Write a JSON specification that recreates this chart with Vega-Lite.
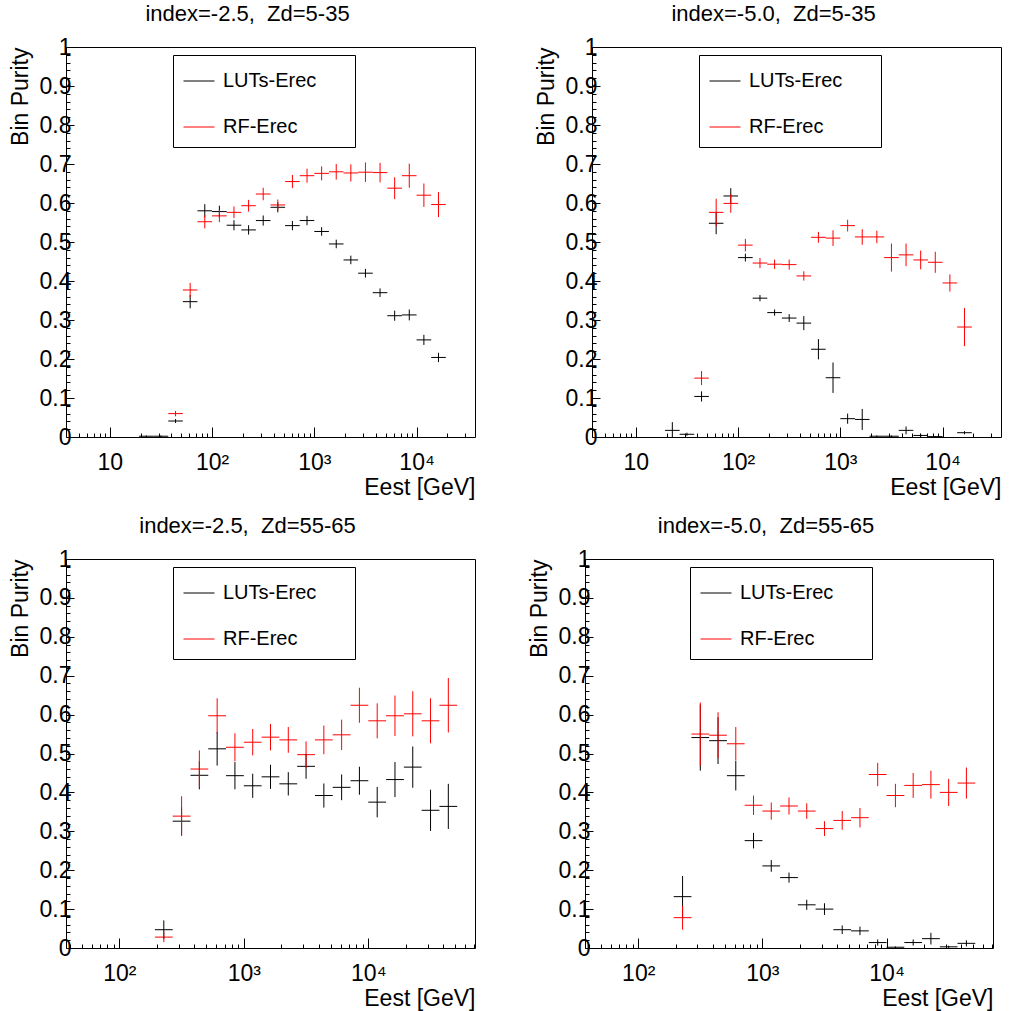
{
  "$schema": "https://vega.github.io/schema/vega-lite/v6.json",
  "background": "white",
  "padding": {"left": 8, "top": 2, "right": 0, "bottom": 0},
  "datasets": {
    "tl": [
      {"s":"LUTs-Erec","lo":19.307,"c":22.758,"hi":26.827,"v":0.002,"ylo":0,"yhi":0.004},
      {"s":"LUTs-Erec","lo":26.827,"c":31.623,"hi":37.276,"v":0.002,"ylo":0,"yhi":0.004},
      {"s":"LUTs-Erec","lo":37.276,"c":43.94,"hi":51.795,"v":0.041,"ylo":0.036,"yhi":0.046},
      {"s":"LUTs-Erec","lo":51.795,"c":61.054,"hi":71.969,"v":0.347,"ylo":0.33,"yhi":0.364},
      {"s":"LUTs-Erec","lo":71.969,"c":84.834,"hi":100,"v":0.58,"ylo":0.563,"yhi":0.597},
      {"s":"LUTs-Erec","lo":100,"c":117.88,"hi":138.95,"v":0.578,"ylo":0.563,"yhi":0.593},
      {"s":"LUTs-Erec","lo":138.95,"c":163.79,"hi":193.07,"v":0.543,"ylo":0.53,"yhi":0.556},
      {"s":"LUTs-Erec","lo":193.07,"c":227.59,"hi":268.27,"v":0.531,"ylo":0.519,"yhi":0.543},
      {"s":"LUTs-Erec","lo":268.27,"c":316.23,"hi":372.76,"v":0.555,"ylo":0.542,"yhi":0.568},
      {"s":"LUTs-Erec","lo":372.76,"c":439.4,"hi":517.95,"v":0.589,"ylo":0.576,"yhi":0.602},
      {"s":"LUTs-Erec","lo":517.95,"c":610.54,"hi":719.69,"v":0.542,"ylo":0.53,"yhi":0.554},
      {"s":"LUTs-Erec","lo":719.69,"c":848.34,"hi":1000,"v":0.555,"ylo":0.543,"yhi":0.567},
      {"s":"LUTs-Erec","lo":1000,"c":1178.8,"hi":1389.5,"v":0.527,"ylo":0.516,"yhi":0.538},
      {"s":"LUTs-Erec","lo":1389.5,"c":1637.9,"hi":1930.7,"v":0.495,"ylo":0.484,"yhi":0.506},
      {"s":"LUTs-Erec","lo":1930.7,"c":2275.8,"hi":2682.7,"v":0.454,"ylo":0.443,"yhi":0.465},
      {"s":"LUTs-Erec","lo":2682.7,"c":3162.3,"hi":3727.6,"v":0.42,"ylo":0.409,"yhi":0.431},
      {"s":"LUTs-Erec","lo":3727.6,"c":4394,"hi":5179.5,"v":0.37,"ylo":0.359,"yhi":0.381},
      {"s":"LUTs-Erec","lo":5179.5,"c":6105.4,"hi":7196.9,"v":0.311,"ylo":0.298,"yhi":0.324},
      {"s":"LUTs-Erec","lo":7196.9,"c":8483.4,"hi":10000,"v":0.313,"ylo":0.299,"yhi":0.327},
      {"s":"LUTs-Erec","lo":10000,"c":11788,"hi":13895,"v":0.249,"ylo":0.236,"yhi":0.262},
      {"s":"LUTs-Erec","lo":13895,"c":16379,"hi":19307,"v":0.204,"ylo":0.192,"yhi":0.216},
      {"s":"RF-Erec","lo":37.276,"c":43.94,"hi":51.795,"v":0.06,"ylo":0.053,"yhi":0.067},
      {"s":"RF-Erec","lo":51.795,"c":61.054,"hi":71.969,"v":0.377,"ylo":0.359,"yhi":0.395},
      {"s":"RF-Erec","lo":71.969,"c":84.834,"hi":100,"v":0.552,"ylo":0.535,"yhi":0.569},
      {"s":"RF-Erec","lo":100,"c":117.88,"hi":138.95,"v":0.567,"ylo":0.551,"yhi":0.583},
      {"s":"RF-Erec","lo":138.95,"c":163.79,"hi":193.07,"v":0.576,"ylo":0.561,"yhi":0.591},
      {"s":"RF-Erec","lo":193.07,"c":227.59,"hi":268.27,"v":0.593,"ylo":0.578,"yhi":0.608},
      {"s":"RF-Erec","lo":268.27,"c":316.23,"hi":372.76,"v":0.623,"ylo":0.607,"yhi":0.639},
      {"s":"RF-Erec","lo":372.76,"c":439.4,"hi":517.95,"v":0.595,"ylo":0.581,"yhi":0.609},
      {"s":"RF-Erec","lo":517.95,"c":610.54,"hi":719.69,"v":0.655,"ylo":0.638,"yhi":0.672},
      {"s":"RF-Erec","lo":719.69,"c":848.34,"hi":1000,"v":0.67,"ylo":0.652,"yhi":0.688},
      {"s":"RF-Erec","lo":1000,"c":1178.8,"hi":1389.5,"v":0.676,"ylo":0.658,"yhi":0.694},
      {"s":"RF-Erec","lo":1389.5,"c":1637.9,"hi":1930.7,"v":0.68,"ylo":0.66,"yhi":0.7},
      {"s":"RF-Erec","lo":1930.7,"c":2275.8,"hi":2682.7,"v":0.677,"ylo":0.655,"yhi":0.699},
      {"s":"RF-Erec","lo":2682.7,"c":3162.3,"hi":3727.6,"v":0.679,"ylo":0.654,"yhi":0.704},
      {"s":"RF-Erec","lo":3727.6,"c":4394,"hi":5179.5,"v":0.678,"ylo":0.653,"yhi":0.703},
      {"s":"RF-Erec","lo":5179.5,"c":6105.4,"hi":7196.9,"v":0.638,"ylo":0.61,"yhi":0.666},
      {"s":"RF-Erec","lo":7196.9,"c":8483.4,"hi":10000,"v":0.67,"ylo":0.639,"yhi":0.701},
      {"s":"RF-Erec","lo":10000,"c":11788,"hi":13895,"v":0.62,"ylo":0.59,"yhi":0.65},
      {"s":"RF-Erec","lo":13895,"c":16379,"hi":19307,"v":0.596,"ylo":0.564,"yhi":0.628}
    ],
    "tr": [
      {"s":"LUTs-Erec","lo":19.307,"c":22.758,"hi":26.827,"v":0.017,"ylo":0,"yhi":0.038},
      {"s":"LUTs-Erec","lo":26.827,"c":31.623,"hi":37.276,"v":0.007,"ylo":0.003,"yhi":0.011},
      {"s":"LUTs-Erec","lo":37.276,"c":43.94,"hi":51.795,"v":0.104,"ylo":0.091,"yhi":0.117},
      {"s":"LUTs-Erec","lo":51.795,"c":61.054,"hi":71.969,"v":0.548,"ylo":0.52,"yhi":0.576},
      {"s":"LUTs-Erec","lo":71.969,"c":84.834,"hi":100,"v":0.618,"ylo":0.598,"yhi":0.638},
      {"s":"LUTs-Erec","lo":100,"c":117.88,"hi":138.95,"v":0.46,"ylo":0.45,"yhi":0.47},
      {"s":"LUTs-Erec","lo":138.95,"c":163.79,"hi":193.07,"v":0.356,"ylo":0.348,"yhi":0.364},
      {"s":"LUTs-Erec","lo":193.07,"c":227.59,"hi":268.27,"v":0.319,"ylo":0.311,"yhi":0.327},
      {"s":"LUTs-Erec","lo":268.27,"c":316.23,"hi":372.76,"v":0.305,"ylo":0.295,"yhi":0.315},
      {"s":"LUTs-Erec","lo":372.76,"c":439.4,"hi":517.95,"v":0.292,"ylo":0.274,"yhi":0.31},
      {"s":"LUTs-Erec","lo":517.95,"c":610.54,"hi":719.69,"v":0.225,"ylo":0.199,"yhi":0.251},
      {"s":"LUTs-Erec","lo":719.69,"c":848.34,"hi":1000,"v":0.152,"ylo":0.113,"yhi":0.191},
      {"s":"LUTs-Erec","lo":1000,"c":1178.8,"hi":1389.5,"v":0.047,"ylo":0.034,"yhi":0.06},
      {"s":"LUTs-Erec","lo":1389.5,"c":1637.9,"hi":1930.7,"v":0.045,"ylo":0.018,"yhi":0.072},
      {"s":"LUTs-Erec","lo":1930.7,"c":2275.8,"hi":2682.7,"v":0.002,"ylo":0,"yhi":0.004},
      {"s":"LUTs-Erec","lo":2682.7,"c":3162.3,"hi":3727.6,"v":0.002,"ylo":0,"yhi":0.004},
      {"s":"LUTs-Erec","lo":3727.6,"c":4394,"hi":5179.5,"v":0.017,"ylo":0.007,"yhi":0.027},
      {"s":"LUTs-Erec","lo":5179.5,"c":6105.4,"hi":7196.9,"v":0.004,"ylo":0,"yhi":0.008},
      {"s":"LUTs-Erec","lo":7196.9,"c":8483.4,"hi":10000,"v":0.001,"ylo":0,"yhi":0.002},
      {"s":"LUTs-Erec","lo":13895,"c":16379,"hi":19307,"v":0.011,"ylo":0.007,"yhi":0.015},
      {"s":"RF-Erec","lo":37.276,"c":43.94,"hi":51.795,"v":0.151,"ylo":0.133,"yhi":0.169},
      {"s":"RF-Erec","lo":51.795,"c":61.054,"hi":71.969,"v":0.576,"ylo":0.541,"yhi":0.611},
      {"s":"RF-Erec","lo":71.969,"c":84.834,"hi":100,"v":0.599,"ylo":0.575,"yhi":0.623},
      {"s":"RF-Erec","lo":100,"c":117.88,"hi":138.95,"v":0.492,"ylo":0.476,"yhi":0.508},
      {"s":"RF-Erec","lo":138.95,"c":163.79,"hi":193.07,"v":0.446,"ylo":0.433,"yhi":0.459},
      {"s":"RF-Erec","lo":193.07,"c":227.59,"hi":268.27,"v":0.443,"ylo":0.431,"yhi":0.455},
      {"s":"RF-Erec","lo":268.27,"c":316.23,"hi":372.76,"v":0.442,"ylo":0.429,"yhi":0.455},
      {"s":"RF-Erec","lo":372.76,"c":439.4,"hi":517.95,"v":0.413,"ylo":0.401,"yhi":0.425},
      {"s":"RF-Erec","lo":517.95,"c":610.54,"hi":719.69,"v":0.512,"ylo":0.498,"yhi":0.526},
      {"s":"RF-Erec","lo":719.69,"c":848.34,"hi":1000,"v":0.51,"ylo":0.49,"yhi":0.53},
      {"s":"RF-Erec","lo":1000,"c":1178.8,"hi":1389.5,"v":0.542,"ylo":0.527,"yhi":0.557},
      {"s":"RF-Erec","lo":1389.5,"c":1637.9,"hi":1930.7,"v":0.513,"ylo":0.493,"yhi":0.533},
      {"s":"RF-Erec","lo":1930.7,"c":2275.8,"hi":2682.7,"v":0.513,"ylo":0.497,"yhi":0.529},
      {"s":"RF-Erec","lo":2682.7,"c":3162.3,"hi":3727.6,"v":0.46,"ylo":0.424,"yhi":0.496},
      {"s":"RF-Erec","lo":3727.6,"c":4394,"hi":5179.5,"v":0.467,"ylo":0.438,"yhi":0.496},
      {"s":"RF-Erec","lo":5179.5,"c":6105.4,"hi":7196.9,"v":0.454,"ylo":0.43,"yhi":0.478},
      {"s":"RF-Erec","lo":7196.9,"c":8483.4,"hi":10000,"v":0.448,"ylo":0.421,"yhi":0.475},
      {"s":"RF-Erec","lo":10000,"c":11788,"hi":13895,"v":0.395,"ylo":0.373,"yhi":0.417},
      {"s":"RF-Erec","lo":13895,"c":16379,"hi":19307,"v":0.282,"ylo":0.233,"yhi":0.331}
    ],
    "bl": [
      {"s":"LUTs-Erec","lo":193.07,"c":227.59,"hi":268.27,"v":0.047,"ylo":0.023,"yhi":0.071},
      {"s":"LUTs-Erec","lo":268.27,"c":316.23,"hi":372.76,"v":0.326,"ylo":0.29,"yhi":0.362},
      {"s":"LUTs-Erec","lo":372.76,"c":439.4,"hi":517.95,"v":0.444,"ylo":0.408,"yhi":0.48},
      {"s":"LUTs-Erec","lo":517.95,"c":610.54,"hi":719.69,"v":0.512,"ylo":0.469,"yhi":0.555},
      {"s":"LUTs-Erec","lo":719.69,"c":848.34,"hi":1000,"v":0.443,"ylo":0.408,"yhi":0.478},
      {"s":"LUTs-Erec","lo":1000,"c":1178.8,"hi":1389.5,"v":0.417,"ylo":0.386,"yhi":0.448},
      {"s":"LUTs-Erec","lo":1389.5,"c":1637.9,"hi":1930.7,"v":0.44,"ylo":0.409,"yhi":0.471},
      {"s":"LUTs-Erec","lo":1930.7,"c":2275.8,"hi":2682.7,"v":0.422,"ylo":0.392,"yhi":0.452},
      {"s":"LUTs-Erec","lo":2682.7,"c":3162.3,"hi":3727.6,"v":0.467,"ylo":0.435,"yhi":0.499},
      {"s":"LUTs-Erec","lo":3727.6,"c":4394,"hi":5179.5,"v":0.392,"ylo":0.361,"yhi":0.423},
      {"s":"LUTs-Erec","lo":5179.5,"c":6105.4,"hi":7196.9,"v":0.413,"ylo":0.38,"yhi":0.446},
      {"s":"LUTs-Erec","lo":7196.9,"c":8483.4,"hi":10000,"v":0.43,"ylo":0.394,"yhi":0.466},
      {"s":"LUTs-Erec","lo":10000,"c":11788,"hi":13895,"v":0.375,"ylo":0.336,"yhi":0.414},
      {"s":"LUTs-Erec","lo":13895,"c":16379,"hi":19307,"v":0.433,"ylo":0.388,"yhi":0.478},
      {"s":"LUTs-Erec","lo":19307,"c":22758,"hi":26827,"v":0.465,"ylo":0.412,"yhi":0.518},
      {"s":"LUTs-Erec","lo":26827,"c":31623,"hi":37276,"v":0.354,"ylo":0.301,"yhi":0.407},
      {"s":"LUTs-Erec","lo":37276,"c":43940,"hi":51795,"v":0.364,"ylo":0.306,"yhi":0.422},
      {"s":"RF-Erec","lo":193.07,"c":227.59,"hi":268.27,"v":0.028,"ylo":0.015,"yhi":0.041},
      {"s":"RF-Erec","lo":268.27,"c":316.23,"hi":372.76,"v":0.339,"ylo":0.288,"yhi":0.39},
      {"s":"RF-Erec","lo":372.76,"c":439.4,"hi":517.95,"v":0.46,"ylo":0.412,"yhi":0.508},
      {"s":"RF-Erec","lo":517.95,"c":610.54,"hi":719.69,"v":0.597,"ylo":0.552,"yhi":0.642},
      {"s":"RF-Erec","lo":719.69,"c":848.34,"hi":1000,"v":0.516,"ylo":0.48,"yhi":0.552},
      {"s":"RF-Erec","lo":1000,"c":1178.8,"hi":1389.5,"v":0.529,"ylo":0.495,"yhi":0.563},
      {"s":"RF-Erec","lo":1389.5,"c":1637.9,"hi":1930.7,"v":0.542,"ylo":0.508,"yhi":0.576},
      {"s":"RF-Erec","lo":1930.7,"c":2275.8,"hi":2682.7,"v":0.535,"ylo":0.502,"yhi":0.568},
      {"s":"RF-Erec","lo":2682.7,"c":3162.3,"hi":3727.6,"v":0.497,"ylo":0.463,"yhi":0.531},
      {"s":"RF-Erec","lo":3727.6,"c":4394,"hi":5179.5,"v":0.535,"ylo":0.498,"yhi":0.572},
      {"s":"RF-Erec","lo":5179.5,"c":6105.4,"hi":7196.9,"v":0.548,"ylo":0.509,"yhi":0.587},
      {"s":"RF-Erec","lo":7196.9,"c":8483.4,"hi":10000,"v":0.624,"ylo":0.579,"yhi":0.669},
      {"s":"RF-Erec","lo":10000,"c":11788,"hi":13895,"v":0.584,"ylo":0.539,"yhi":0.629},
      {"s":"RF-Erec","lo":13895,"c":16379,"hi":19307,"v":0.597,"ylo":0.545,"yhi":0.649},
      {"s":"RF-Erec","lo":19307,"c":22758,"hi":26827,"v":0.602,"ylo":0.544,"yhi":0.66},
      {"s":"RF-Erec","lo":26827,"c":31623,"hi":37276,"v":0.584,"ylo":0.526,"yhi":0.642},
      {"s":"RF-Erec","lo":37276,"c":43940,"hi":51795,"v":0.624,"ylo":0.554,"yhi":0.694}
    ],
    "br": [
      {"s":"LUTs-Erec","lo":193.07,"c":227.59,"hi":268.27,"v":0.132,"ylo":0.079,"yhi":0.185},
      {"s":"LUTs-Erec","lo":268.27,"c":316.23,"hi":372.76,"v":0.541,"ylo":0.456,"yhi":0.626},
      {"s":"LUTs-Erec","lo":372.76,"c":439.4,"hi":517.95,"v":0.533,"ylo":0.473,"yhi":0.593},
      {"s":"LUTs-Erec","lo":517.95,"c":610.54,"hi":719.69,"v":0.443,"ylo":0.405,"yhi":0.481},
      {"s":"LUTs-Erec","lo":719.69,"c":848.34,"hi":1000,"v":0.276,"ylo":0.256,"yhi":0.296},
      {"s":"LUTs-Erec","lo":1000,"c":1178.8,"hi":1389.5,"v":0.211,"ylo":0.196,"yhi":0.226},
      {"s":"LUTs-Erec","lo":1389.5,"c":1637.9,"hi":1930.7,"v":0.181,"ylo":0.168,"yhi":0.194},
      {"s":"LUTs-Erec","lo":1930.7,"c":2275.8,"hi":2682.7,"v":0.111,"ylo":0.098,"yhi":0.124},
      {"s":"LUTs-Erec","lo":2682.7,"c":3162.3,"hi":3727.6,"v":0.1,"ylo":0.085,"yhi":0.115},
      {"s":"LUTs-Erec","lo":3727.6,"c":4394,"hi":5179.5,"v":0.047,"ylo":0.036,"yhi":0.058},
      {"s":"LUTs-Erec","lo":5179.5,"c":6105.4,"hi":7196.9,"v":0.044,"ylo":0.033,"yhi":0.055},
      {"s":"LUTs-Erec","lo":7196.9,"c":8483.4,"hi":10000,"v":0.014,"ylo":0.006,"yhi":0.022},
      {"s":"LUTs-Erec","lo":10000,"c":11788,"hi":13895,"v":0.002,"ylo":0,"yhi":0.004},
      {"s":"LUTs-Erec","lo":13895,"c":16379,"hi":19307,"v":0.014,"ylo":0.006,"yhi":0.022},
      {"s":"LUTs-Erec","lo":19307,"c":22758,"hi":26827,"v":0.024,"ylo":0.009,"yhi":0.039},
      {"s":"LUTs-Erec","lo":26827,"c":31623,"hi":37276,"v":0.003,"ylo":0,"yhi":0.006},
      {"s":"LUTs-Erec","lo":37276,"c":43940,"hi":51795,"v":0.012,"ylo":0.004,"yhi":0.02},
      {"s":"RF-Erec","lo":193.07,"c":227.59,"hi":268.27,"v":0.078,"ylo":0.047,"yhi":0.109},
      {"s":"RF-Erec","lo":268.27,"c":316.23,"hi":372.76,"v":0.55,"ylo":0.469,"yhi":0.631},
      {"s":"RF-Erec","lo":372.76,"c":439.4,"hi":517.95,"v":0.547,"ylo":0.488,"yhi":0.606},
      {"s":"RF-Erec","lo":517.95,"c":610.54,"hi":719.69,"v":0.525,"ylo":0.482,"yhi":0.568},
      {"s":"RF-Erec","lo":719.69,"c":848.34,"hi":1000,"v":0.367,"ylo":0.342,"yhi":0.392},
      {"s":"RF-Erec","lo":1000,"c":1178.8,"hi":1389.5,"v":0.352,"ylo":0.33,"yhi":0.374},
      {"s":"RF-Erec","lo":1389.5,"c":1637.9,"hi":1930.7,"v":0.365,"ylo":0.343,"yhi":0.387},
      {"s":"RF-Erec","lo":1930.7,"c":2275.8,"hi":2682.7,"v":0.352,"ylo":0.332,"yhi":0.372},
      {"s":"RF-Erec","lo":2682.7,"c":3162.3,"hi":3727.6,"v":0.307,"ylo":0.288,"yhi":0.326},
      {"s":"RF-Erec","lo":3727.6,"c":4394,"hi":5179.5,"v":0.328,"ylo":0.304,"yhi":0.352},
      {"s":"RF-Erec","lo":5179.5,"c":6105.4,"hi":7196.9,"v":0.335,"ylo":0.31,"yhi":0.36},
      {"s":"RF-Erec","lo":7196.9,"c":8483.4,"hi":10000,"v":0.446,"ylo":0.416,"yhi":0.476},
      {"s":"RF-Erec","lo":10000,"c":11788,"hi":13895,"v":0.392,"ylo":0.362,"yhi":0.422},
      {"s":"RF-Erec","lo":13895,"c":16379,"hi":19307,"v":0.418,"ylo":0.386,"yhi":0.45},
      {"s":"RF-Erec","lo":19307,"c":22758,"hi":26827,"v":0.42,"ylo":0.384,"yhi":0.456},
      {"s":"RF-Erec","lo":26827,"c":31623,"hi":37276,"v":0.4,"ylo":0.365,"yhi":0.435},
      {"s":"RF-Erec","lo":37276,"c":43940,"hi":51795,"v":0.424,"ylo":0.384,"yhi":0.464}
    ]
  },
  "vconcat": [
    {
      "hconcat": [
        {
          "width": 409, "height": 390,
          "title": {"text": "index=-2.5,\u00a0 Zd=5-35", "dx": -23, "offset": -7, "baseline": "alphabetic"},
          "data": {"name": "tl"},
          "resolve": {"axis": {"x": "independent", "y": "independent"}},
          "layer": [
            {"mark": {"type": "rule", "strokeWidth": 1},
             "encoding": {
               "x": {"field": "lo", "type": "quantitative",
                     "scale": {"type": "log", "domain": [3.7276, 37276], "nice": false},
                     "axis": {"orient": "bottom", "title": "Eest [GeV]", "values": [10,100,1000,10000],
                              "labelExpr": "datum.value === 10 ? '10' : datum.value === 100 ? '10²' : datum.value === 1000 ? '10³' : '10⁴'",
                              "tickSize": -10, "labelPadding": 24}},
               "x2": {"field": "hi"},
               "y": {"field": "v", "type": "quantitative",
                     "scale": {"domain": [0, 1], "nice": false, "zero": false},
                     "axis": {"orient": "left", "title": "Bin Purity", "values": [0,0.1,0.2,0.3,0.4,0.5,0.6,0.7,0.8,0.9,1], "format": "~g",
                              "tickSize": -8, "labelPadding": 3}},
               "color": {"field": "s", "type": "nominal", "scale": {"domain": ["LUTs-Erec", "RF-Erec"], "range": ["#000000", "#ff0000"]},
                         "legend": {"orient": "none", "legendX": 107, "legendY": 8, "title": null, "labelExpr": "datum.label + '\u00a0\u00a0\u00a0\u00a0\u00a0\u200b'"}}
             }},
            {"mark": {"type": "rule", "strokeWidth": 1},
             "encoding": {
               "x": {"field": "c", "type": "quantitative",
                     "axis": {"orient": "bottom", "title": null, "labels": false, "tickSize": -4,
                              "values": [4,5,6,7,8,9,20,30,40,50,60,70,80,90,200,300,400,500,600,700,800,900,2000,3000,4000,5000,6000,7000,8000,9000,20000,30000]}},
               "y": {"field": "ylo", "type": "quantitative",
                     "axis": {"orient": "left", "title": null, "labels": false, "tickSize": -4,
                              "values": [0.02,0.04,0.06,0.08,0.12,0.14,0.16,0.18,0.22,0.24,0.26,0.28,0.32,0.34,0.36,0.38,0.42,0.44,0.46,0.48,0.52,0.54,0.56,0.58,0.62,0.64,0.66,0.68,0.72,0.74,0.76,0.78,0.82,0.84,0.86,0.88,0.92,0.94,0.96,0.98]}},
               "y2": {"field": "yhi"},
               "color": {"field": "s", "type": "nominal"}
             }}
          ]
        },
        {
          "width": 409, "height": 390,
          "title": {"text": "index=-5.0,\u00a0 Zd=5-35", "dx": -23, "offset": -7, "baseline": "alphabetic"},
          "data": {"name": "tr"},
          "resolve": {"axis": {"x": "independent", "y": "independent"}},
          "layer": [
            {"mark": {"type": "rule", "strokeWidth": 1},
             "encoding": {
               "x": {"field": "lo", "type": "quantitative",
                     "scale": {"type": "log", "domain": [3.7276, 37276], "nice": false},
                     "axis": {"orient": "bottom", "title": "Eest [GeV]", "values": [10,100,1000,10000],
                              "labelExpr": "datum.value === 10 ? '10' : datum.value === 100 ? '10²' : datum.value === 1000 ? '10³' : '10⁴'",
                              "tickSize": -10, "labelPadding": 24}},
               "x2": {"field": "hi"},
               "y": {"field": "v", "type": "quantitative",
                     "scale": {"domain": [0, 1], "nice": false, "zero": false},
                     "axis": {"orient": "left", "title": "Bin Purity", "values": [0,0.1,0.2,0.3,0.4,0.5,0.6,0.7,0.8,0.9,1], "format": "~g",
                              "tickSize": -8, "labelPadding": 3}},
               "color": {"field": "s", "type": "nominal", "scale": {"domain": ["LUTs-Erec", "RF-Erec"], "range": ["#000000", "#ff0000"]},
                         "legend": {"orient": "none", "legendX": 107, "legendY": 8, "title": null, "labelExpr": "datum.label + '\u00a0\u00a0\u00a0\u00a0\u00a0\u200b'"}}
             }},
            {"mark": {"type": "rule", "strokeWidth": 1},
             "encoding": {
               "x": {"field": "c", "type": "quantitative",
                     "axis": {"orient": "bottom", "title": null, "labels": false, "tickSize": -4,
                              "values": [4,5,6,7,8,9,20,30,40,50,60,70,80,90,200,300,400,500,600,700,800,900,2000,3000,4000,5000,6000,7000,8000,9000,20000,30000]}},
               "y": {"field": "ylo", "type": "quantitative",
                     "axis": {"orient": "left", "title": null, "labels": false, "tickSize": -4,
                              "values": [0.02,0.04,0.06,0.08,0.12,0.14,0.16,0.18,0.22,0.24,0.26,0.28,0.32,0.34,0.36,0.38,0.42,0.44,0.46,0.48,0.52,0.54,0.56,0.58,0.62,0.64,0.66,0.68,0.72,0.74,0.76,0.78,0.82,0.84,0.86,0.88,0.92,0.94,0.96,0.98]}},
               "y2": {"field": "yhi"},
               "color": {"field": "s", "type": "nominal"}
             }}
          ]
        }
      ],
      "spacing": 117,
      "bounds": "flush",
      "resolve": {"scale": {"x": "independent", "y": "independent"}, "legend": {"color": "independent"}}
    },
    {
      "hconcat": [
        {
          "width": 409, "height": 389,
          "title": {"text": "index=-2.5,\u00a0 Zd=55-65", "dx": -23, "offset": -7, "baseline": "alphabetic"},
          "data": {"name": "bl"},
          "resolve": {"axis": {"x": "independent", "y": "independent"}},
          "layer": [
            {"mark": {"type": "rule", "strokeWidth": 1},
             "encoding": {
               "x": {"field": "lo", "type": "quantitative",
                     "scale": {"type": "log", "domain": [37.276, 71969], "nice": false},
                     "axis": {"orient": "bottom", "title": "Eest [GeV]", "values": [100,1000,10000],
                              "labelExpr": "datum.value === 10 ? '10' : datum.value === 100 ? '10²' : datum.value === 1000 ? '10³' : '10⁴'",
                              "tickSize": -10, "labelPadding": 24}},
               "x2": {"field": "hi"},
               "y": {"field": "v", "type": "quantitative",
                     "scale": {"domain": [0, 1], "nice": false, "zero": false},
                     "axis": {"orient": "left", "title": "Bin Purity", "values": [0,0.1,0.2,0.3,0.4,0.5,0.6,0.7,0.8,0.9,1], "format": "~g",
                              "tickSize": -8, "labelPadding": 3}},
               "color": {"field": "s", "type": "nominal", "scale": {"domain": ["LUTs-Erec", "RF-Erec"], "range": ["#000000", "#ff0000"]},
                         "legend": {"orient": "none", "legendX": 107, "legendY": 8, "title": null, "labelExpr": "datum.label + '\u00a0\u00a0\u00a0\u00a0\u00a0\u200b'"}}
             }},
            {"mark": {"type": "rule", "strokeWidth": 1},
             "encoding": {
               "x": {"field": "c", "type": "quantitative",
                     "axis": {"orient": "bottom", "title": null, "labels": false, "tickSize": -4,
                              "values": [40,50,60,70,80,90,200,300,400,500,600,700,800,900,2000,3000,4000,5000,6000,7000,8000,9000,20000,30000,40000,50000,60000,70000]}},
               "y": {"field": "ylo", "type": "quantitative",
                     "axis": {"orient": "left", "title": null, "labels": false, "tickSize": -4,
                              "values": [0.02,0.04,0.06,0.08,0.12,0.14,0.16,0.18,0.22,0.24,0.26,0.28,0.32,0.34,0.36,0.38,0.42,0.44,0.46,0.48,0.52,0.54,0.56,0.58,0.62,0.64,0.66,0.68,0.72,0.74,0.76,0.78,0.82,0.84,0.86,0.88,0.92,0.94,0.96,0.98]}},
               "y2": {"field": "yhi"},
               "color": {"field": "s", "type": "nominal"}
             }}
          ]
        },
        {
          "width": 408, "height": 389,
          "title": {"text": "index=-5.0,\u00a0 Zd=55-65", "dx": -23, "offset": -7, "baseline": "alphabetic"},
          "data": {"name": "br"},
          "resolve": {"axis": {"x": "independent", "y": "independent"}},
          "layer": [
            {"mark": {"type": "rule", "strokeWidth": 1},
             "encoding": {
               "x": {"field": "lo", "type": "quantitative",
                     "scale": {"type": "log", "domain": [37.276, 71969], "nice": false},
                     "axis": {"orient": "bottom", "title": "Eest [GeV]", "values": [100,1000,10000], "titleX": 408,
                              "labelExpr": "datum.value === 10 ? '10' : datum.value === 100 ? '10²' : datum.value === 1000 ? '10³' : '10⁴'",
                              "tickSize": -10, "labelPadding": 24}},
               "x2": {"field": "hi"},
               "y": {"field": "v", "type": "quantitative",
                     "scale": {"domain": [0, 1], "nice": false, "zero": false},
                     "axis": {"orient": "left", "title": "Bin Purity", "values": [0,0.1,0.2,0.3,0.4,0.5,0.6,0.7,0.8,0.9,1], "format": "~g",
                              "tickSize": -8, "labelPadding": 3}},
               "color": {"field": "s", "type": "nominal", "scale": {"domain": ["LUTs-Erec", "RF-Erec"], "range": ["#000000", "#ff0000"]},
                         "legend": {"orient": "none", "legendX": 105, "legendY": 8, "title": null, "labelExpr": "datum.label + '\u00a0\u00a0\u00a0\u00a0\u00a0\u200b'"}}
             }},
            {"mark": {"type": "rule", "strokeWidth": 1},
             "encoding": {
               "x": {"field": "c", "type": "quantitative",
                     "axis": {"orient": "bottom", "title": null, "labels": false, "tickSize": -4,
                              "values": [40,50,60,70,80,90,200,300,400,500,600,700,800,900,2000,3000,4000,5000,6000,7000,8000,9000,20000,30000,40000,50000,60000,70000]}},
               "y": {"field": "ylo", "type": "quantitative",
                     "axis": {"orient": "left", "title": null, "labels": false, "tickSize": -4,
                              "values": [0.02,0.04,0.06,0.08,0.12,0.14,0.16,0.18,0.22,0.24,0.26,0.28,0.32,0.34,0.36,0.38,0.42,0.44,0.46,0.48,0.52,0.54,0.56,0.58,0.62,0.64,0.66,0.68,0.72,0.74,0.76,0.78,0.82,0.84,0.86,0.88,0.92,0.94,0.96,0.98]}},
               "y2": {"field": "yhi"},
               "color": {"field": "s", "type": "nominal"}
             }}
          ]
        }
      ],
      "spacing": 110,
      "bounds": "flush",
      "resolve": {"scale": {"x": "independent", "y": "independent"}, "legend": {"color": "independent"}}
    }
  ],
  "spacing": 14,
  "resolve": {"scale": {"x": "independent", "y": "independent"}, "legend": {"color": "independent"}},
  "config": {
    "view": {"stroke": "#000000", "strokeWidth": 1},
    "axis": {"domain": false, "grid": false, "labelFont": "Liberation Sans", "labelFontSize": 23, "labelColor": "#000000",
             "tickColor": "#000000", "tickWidth": 1, "titleFont": "Liberation Sans", "titleFontSize": 23, "titleFontWeight": "normal",
             "titleColor": "#000000", "labelFlush": false, "labelOverlap": false, "labelBound": false},
    "axisX": {"titleAnchor": "end", "titleX": 409, "titleY": 57, "titleAlign": "right", "titleBaseline": "alphabetic"},
    "axisY": {"titleAngle": 270, "titleX": -39, "titleY": 0, "titleAlign": "right", "titleBaseline": "alphabetic", "titleAnchor": "end"},
    "title": {"font": "Liberation Sans", "fontSize": 22, "fontWeight": "normal", "color": "#000000", "anchor": "middle", "frame": "group"},
    "legend": {"symbolType": "stroke", "symbolSize": 961, "symbolStrokeWidth": 1, "labelFont": "Liberation Sans", "labelFontSize": 20,
               "labelColor": "#000000", "strokeColor": "#000000", "fillColor": "#ffffff", "padding": 10, "rowPadding": 20, "labelOffset": 8}
  }
}
